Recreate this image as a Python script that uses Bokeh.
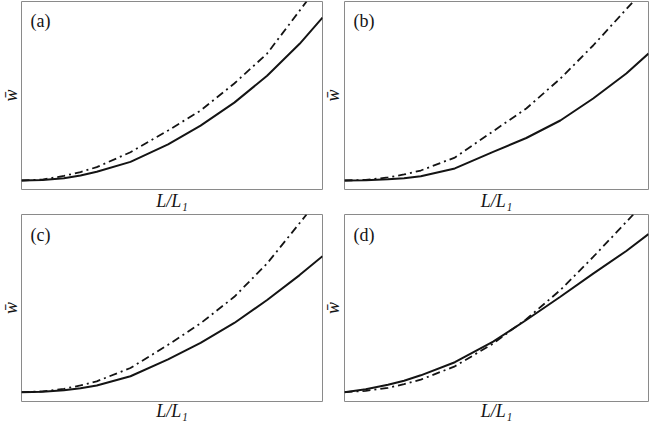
import math
from bokeh.plotting import figure
from bokeh.layouts import column, row
from bokeh.models import Label, Range1d, FixedTicker
from bokeh.embed import file_html
from bokeh.resources import INLINE

# ---------------- data ----------------
panel_names = ["(a)", "(b)", "(c)", "(d)"]
x_title = "L/L\u2081"
y_title = "w\u0304"

# panel (a)
a_solid_x = [0.0, 0.07, 0.141, 0.196, 0.25, 0.362, 0.487, 0.595, 0.707, 0.816, 0.924, 1.0]
a_solid_y = [0.048, 0.051, 0.060, 0.075, 0.094, 0.147, 0.240, 0.340, 0.462, 0.605, 0.775, 0.914]
a_dash_x = [0.0, 0.07, 0.141, 0.196, 0.25, 0.362, 0.487, 0.595, 0.707, 0.816, 0.947]
a_dash_y = [0.048, 0.053, 0.072, 0.093, 0.119, 0.198, 0.314, 0.420, 0.564, 0.723, 1.0]

# panel (b)
b_solid_x = [0.0, 0.07, 0.143, 0.196, 0.251, 0.363, 0.489, 0.598, 0.71, 0.818, 0.927, 1.0]
b_solid_y = [0.048, 0.049, 0.054, 0.060, 0.070, 0.112, 0.200, 0.274, 0.367, 0.484, 0.617, 0.723]
b_dash_x = [0.0, 0.07, 0.143, 0.196, 0.251, 0.363, 0.489, 0.598, 0.71, 0.818, 0.95]
b_dash_y = [0.048, 0.051, 0.064, 0.080, 0.101, 0.170, 0.310, 0.431, 0.590, 0.766, 1.0]

# panel (c)
c_solid_x = [0.0, 0.07, 0.141, 0.196, 0.25, 0.362, 0.487, 0.595, 0.707, 0.816, 0.924, 1.0]
c_solid_y = [0.05, 0.052, 0.060, 0.071, 0.086, 0.135, 0.225, 0.314, 0.42, 0.543, 0.676, 0.777]
c_dash_x = [0.0, 0.07, 0.141, 0.196, 0.25, 0.362, 0.487, 0.595, 0.707, 0.816, 0.947]
c_dash_y = [0.05, 0.054, 0.068, 0.086, 0.108, 0.179, 0.303, 0.418, 0.56, 0.738, 1.0]

# panel (d)
d_solid_x = [0.0, 0.07, 0.143, 0.196, 0.251, 0.363, 0.489, 0.598, 0.71, 0.818, 0.927, 1.0]
d_solid_y = [0.05, 0.066, 0.09, 0.111, 0.14, 0.21, 0.32, 0.436, 0.56, 0.684, 0.805, 0.895]
d_dash_x = [0.0, 0.07, 0.143, 0.196, 0.251, 0.363, 0.489, 0.542, 0.598, 0.71, 0.818, 0.95]
d_dash_y = [0.05, 0.057, 0.073, 0.093, 0.117, 0.188, 0.31, 0.374, 0.44, 0.596, 0.773, 1.0]

# ---------------- styling ----------------
FONT = "Liberation Serif"
INK = "#141414"
FRAME = "#8a8a8a"


def make_panel(name, sx, sy, dx, dy, w, right, h, top, bottom, xlab_standoff, name_dy):
    p = figure(width=w, height=h,
               x_range=Range1d(0, 1), y_range=Range1d(0, 1),
               y_axis_type=None,
               toolbar_location=None, output_backend="svg",
               min_border_left=1, min_border_right=right,
               min_border_top=top, min_border_bottom=bottom)
    p.outline_line_color = FRAME
    p.outline_line_width = 1
    p.background_fill_color = "white"
    p.border_fill_color = "white"
    p.grid.visible = False

    ax = p.xaxis[0]
    ax.ticker = FixedTicker(ticks=[])
    ax.major_tick_in = 0
    ax.major_tick_out = 0
    ax.minor_tick_in = 0
    ax.minor_tick_out = 0
    ax.major_label_standoff = 0
    ax.major_label_text_font_size = "0px"
    ax.axis_line_color = None
    ax.axis_label = x_title
    ax.axis_label_text_font = FONT
    ax.axis_label_text_font_style = "italic"
    ax.axis_label_text_font_size = "18px"
    ax.axis_label_text_color = INK
    ax.axis_label_standoff = xlab_standoff

    p.line(dx, dy, line_color=INK, line_width=1.8, line_dash="8 4 2 4")
    p.line(sx, sy, line_color=INK, line_width=2.0)

    fh = h - top - bottom
    p.add_layout(Label(x=9, y=fh - name_dy, x_units="screen", y_units="screen",
                       text=name, text_font=FONT, text_font_size="18px",
                       text_color=INK, text_align="left", text_baseline="middle"))
    return p


def make_ylabel(w, h, top, bottom, cx):
    s = figure(width=w, height=h, x_range=Range1d(0, 1), y_range=Range1d(0, 1),
               x_axis_type=None, y_axis_type=None,
               toolbar_location=None, output_backend="svg",
               min_border_left=0, min_border_right=0,
               min_border_top=top, min_border_bottom=bottom)
    s.outline_line_color = None
    s.grid.visible = False
    s.background_fill_color = "white"
    s.border_fill_color = "white"
    fh = h - top - bottom
    s.add_layout(Label(x=cx, y=fh / 2, x_units="screen", y_units="screen",
                       text=y_title, text_font=FONT, text_font_size="18px",
                       text_font_style="italic", text_color=INK, angle=math.pi / 2,
                       text_align="center", text_baseline="middle"))
    return s


# row 1: frames at y 1..189 ; row 2: frames at y 214..401
H1, T1, B1 = 213, 1, 24
H2, T2, B2 = 210, 1, 22

pa = make_panel(panel_names[0], a_solid_x, a_solid_y, a_dash_x, a_dash_y, 303, 1, H1, T1, B1, 1, 19)
pb = make_panel(panel_names[1], b_solid_x, b_solid_y, b_dash_x, b_dash_y, 307, 2, H1, T1, B1, 1, 19)
pc = make_panel(panel_names[2], c_solid_x, c_solid_y, c_dash_x, c_dash_y, 303, 1, H2, T2, B2, -1, 20)
pd = make_panel(panel_names[3], d_solid_x, d_solid_y, d_dash_x, d_dash_y, 307, 2, H2, T2, B2, -1, 20)

ya = make_ylabel(20, H1, T1, B1, 10)
yb = make_ylabel(20, H1, T1, B1, 9)
yc = make_ylabel(20, H2, T2, B2, 10)
yd = make_ylabel(20, H2, T2, B2, 9)

layout = column(row(ya, pa, yb, pb), row(yc, pc, yd, pd))

open("out.html", "w").write(file_html(layout, INLINE))
